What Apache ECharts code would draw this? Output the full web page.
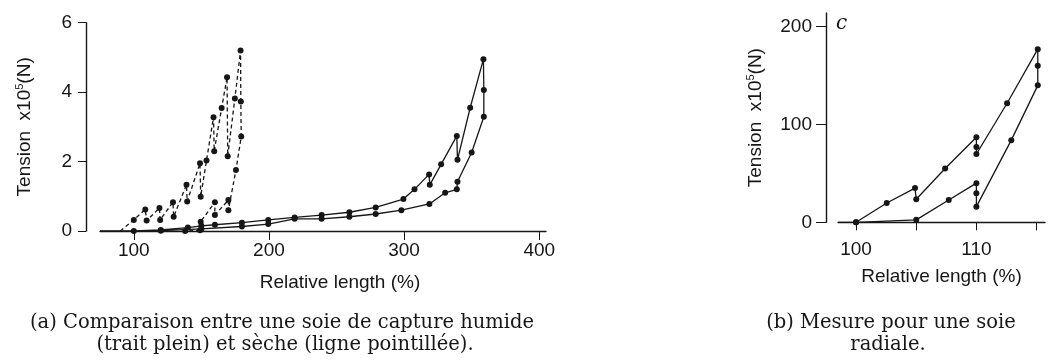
<!DOCTYPE html>
<html>
<head>
<meta charset="utf-8">
<script src="https://cdn.jsdelivr.net/npm/echarts@6/dist/echarts.min.js"></script>
<style>
  html, body { margin: 0; padding: 0; background: #fff; }
  #chart { width: 1049px; height: 362px; }
</style>
</head>
<body>
<div id="chart"></div>
<script>
// (a) dry capture silk, dashed
const dryLen = [90, 100, 108.5, 109.5, 119, 119.5, 129, 129.5, 139, 139.5, 149, 149.5, 153.8, 159, 159.5, 165, 169, 169.5, 174.8, 179, 179.2, 179.5, 175.6, 170, 170, 160, 160, 149.5, 149, 138];
const dryTen = [0, 0.32, 0.62, 0.3, 0.66, 0.32, 0.83, 0.41, 1.33, 0.85, 1.95, 0.99, 2.03, 3.28, 2.3, 3.54, 4.43, 2.15, 3.82, 5.2, 3.73, 2.72, 1.76, 0.6, 0.89, 0.46, 0.83, 0.27, 0.02, 0];
// (a) wet capture silk, solid
const wetLen = [75, 100, 120, 140, 150, 160, 180, 199.5, 219, 239, 259.5, 279, 299.5, 307.7, 318.5, 319, 327.4, 339, 339.5, 348.9, 358.7, 359, 359, 350, 339.5, 339, 330.4, 318.7, 298, 279, 259.5, 239, 219, 199.5, 180, 150, 120, 100];
const wetTen = [0, 0, 0.03, 0.1, 0.15, 0.18, 0.24, 0.32, 0.39, 0.46, 0.54, 0.68, 0.92, 1.2, 1.63, 1.33, 1.92, 2.74, 2.05, 3.55, 4.95, 4.06, 3.29, 2.26, 1.42, 1.2, 1.1, 0.78, 0.6, 0.49, 0.41, 0.35, 0.35, 0.2, 0.13, 0.06, 0.01, 0];
// (b) radial silk
const radLen = [98.5, 100, 102.55, 104.9, 105, 107.4, 110, 110, 110, 112.55, 115.1, 115.1, 115.1, 112.9, 110, 110, 110, 107.7, 105, 100];
const radTen = [0, 0, 19.7, 35, 23.5, 55, 86.9, 77, 69.8, 121.7, 177, 160, 140, 84, 16, 29.6, 40, 22.8, 2.5, 0];

const leftTicks = [100, 200, 300, 400];
const rightTicks = [100, 105, 110, 115];
const rightLabels = [100, 110];
const captionA = ['(a) Comparaison entre une soie de capture humide', '(trait plein) et sèche (ligne pointillée).'];
const captionB = ['(b) Mesure pour une soie', 'radiale.'];

const ink = '#161616';
const sans = 'Liberation Sans';
const capFont = '19.5px "DejaVu Serif"';

function pairs(xs, ys) {
  return xs.map((x, i) => [x, ys[i]]);
}

// no dot on the free ends lying on the axis
function dotSize(n) {
  return function (val, params) {
    return (params.dataIndex === 0 || (params.dataIndex === n - 1 && val[1] === 0 && n > 30)) ? 0 : 6;
  };
}

function curve(xs, ys, idx, dashed) {
  return {
    type: 'line',
    xAxisIndex: idx,
    yAxisIndex: idx,
    data: pairs(xs, ys),
    symbol: 'circle',
    symbolSize: dotSize(xs.length),
    showAllSymbol: true,
    itemStyle: { color: ink },
    lineStyle: { color: ink, width: 1.3, type: dashed ? [4, 3] : 'solid' },
    silent: true
  };
}

const axisLine = { show: true, lineStyle: { color: ink, width: 1.4 } };
const nameStyle = {
  color: ink, fontFamily: sans, fontSize: 19,
  rich: { sup: { fontSize: 11, fontFamily: sans, color: ink, padding: [0, 0, 11, 0] } }
};

let option = {
  animation: false,
  backgroundColor: '#fff',
  grid: [
    { left: 100, top: 22.7, width: 446, height: 208.3 },
    { left: 838, top: 13, width: 207, height: 209.3 }
  ],
  xAxis: [{
    type: 'value', gridIndex: 0, min: 75, max: 405, offset: 2,
    axisLine: axisLine,
    axisTick: { show: true, length: 9, customValues: leftTicks, lineStyle: { color: ink } },
    axisLabel: { customValues: leftTicks, margin: 8, color: ink, fontFamily: sans, fontSize: 19 },
    splitLine: { show: false },
    name: 'Relative length (%)', nameLocation: 'middle', nameGap: 40,
    nameTextStyle: Object.assign({}, nameStyle, { padding: [0, 0, 0, 34] })
  }, {
    type: 'value', gridIndex: 1, min: 98.5, max: 115.7, offset: 4,
    axisLine: axisLine,
    axisTick: { show: true, length: 8, customValues: rightTicks, lineStyle: { color: ink } },
    axisLabel: { customValues: rightLabels, margin: 14, color: ink, fontFamily: sans, fontSize: 19 },
    splitLine: { show: false },
    name: 'Relative length (%)', nameLocation: 'middle', nameGap: 41,
    nameTextStyle: nameStyle
  }],
  yAxis: [{
    type: 'value', gridIndex: 0, min: 0, max: 6, interval: 2, offset: 14,
    axisLine: axisLine,
    axisTick: { show: true, length: 8, lineStyle: { color: ink } },
    axisLabel: { margin: 14, color: ink, fontFamily: sans, fontSize: 19 },
    splitLine: { show: false },
    name: 'Tension  x10{sup|5}(N)', nameLocation: 'middle', nameGap: 50,
    nameTextStyle: nameStyle
  }, {
    type: 'value', gridIndex: 1, min: 0, max: 214, offset: 12,
    axisLine: axisLine,
    axisTick: { show: true, length: 10, customValues: [0, 100, 200], lineStyle: { color: ink } },
    axisLabel: { customValues: [0, 100, 200], margin: 14, color: ink, fontFamily: sans, fontSize: 19 },
    splitLine: { show: false },
    name: 'Tension  x10{sup|5}(N)', nameLocation: 'middle', nameGap: 59,
    nameTextStyle: nameStyle
  }],
  series: [
    curve(dryLen, dryTen, 0, true),
    curve(wetLen, wetTen, 0, false),
    curve(radLen, radTen, 1, false)
  ],
  graphic: [
    { type: 'text', left: 836, top: 14, style: { text: 'c', fill: ink, font: 'italic 20px "DejaVu Serif"' } },
    { type: 'text', x: 282, y: 323, style: { text: captionA[0], fill: ink, font: capFont, textAlign: 'center', textVerticalAlign: 'middle' } },
    { type: 'text', x: 285, y: 345, style: { text: captionA[1], fill: ink, font: capFont, textAlign: 'center', textVerticalAlign: 'middle' } },
    { type: 'text', x: 891, y: 323, style: { text: captionB[0], fill: ink, font: capFont, textAlign: 'center', textVerticalAlign: 'middle' } },
    { type: 'text', x: 888, y: 345, style: { text: captionB[1], fill: ink, font: capFont, textAlign: 'center', textVerticalAlign: 'middle' } }
  ]
};

const myChart = echarts.init(document.getElementById('chart'));
myChart.setOption(option);
</script>
</body>
</html>
